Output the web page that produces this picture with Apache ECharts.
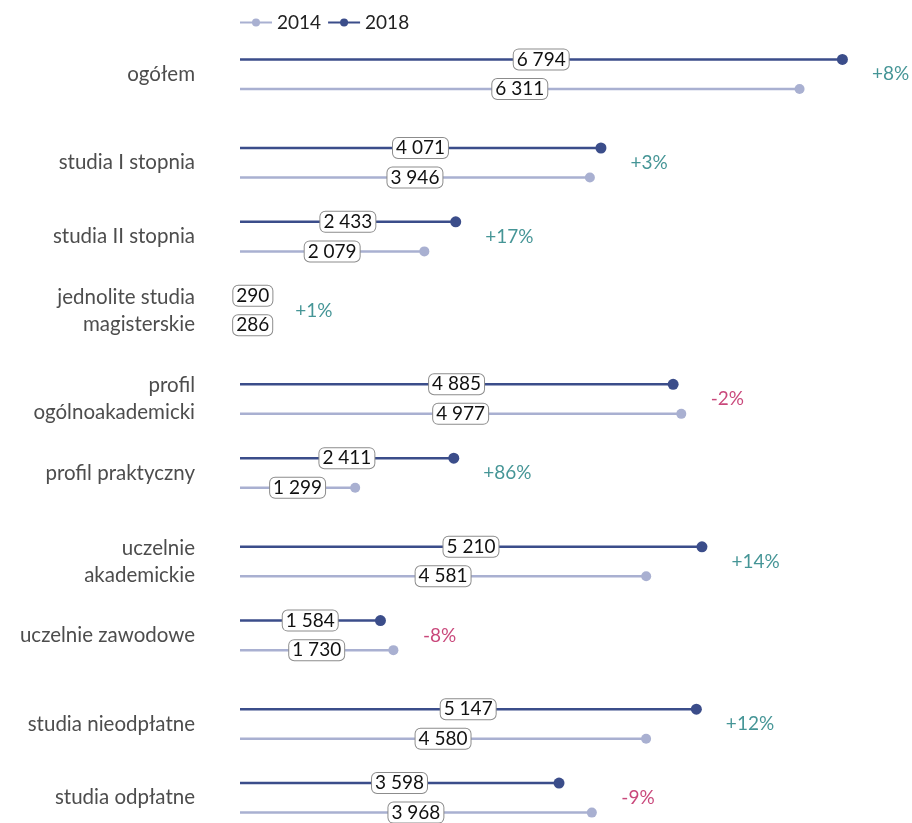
<!DOCTYPE html>
<html><head><meta charset="utf-8">
<script src="https://cdn.jsdelivr.net/npm/echarts@6/dist/echarts.min.js"></script>
<style>html,body{margin:0;padding:0;background:#fff}#c{width:912px;height:823px}</style>
</head><body><div id="c"></div>
<script>
const categories = ['ogółem','studia I stopnia','studia II stopnia','jednolite studia\nmagisterskie','profil\nogólnoakademicki','profil praktyczny','uczelnie\nakademickie','uczelnie zawodowe','studia nieodpłatne','studia odpłatne'];
const v2018 = [6794,4071,2433,290,4885,2411,5210,1584,5147,3598];
const v2014 = [6311,3946,2079,286,4977,1299,4581,1730,4580,3968];
const changes = ['+8%','+3%','+17%','+1%','-2%','+86%','+14%','-8%','+12%','-9%'];
const groups = [0,1,1,1,2,2,3,3,4,4];

const C18 = '#3b4d8a', C14 = '#a9b0d1', POS = '#167b7c', NEG = '#bc1a5a';
const FONT = 'Lato, "Open Sans", sans-serif';

// build row slots
const r18 = [], r14 = [], mid = [];
let pos = -2;
categories.forEach((c, i) => {
  pos += (i === 0 ? 2 : (groups[i] !== groups[i-1] ? 4 : 3));
  r18.push(pos); mid.push(pos + 1); r14.push(pos + 2);
  pos += 2;
});
const nSlots = pos + 1;
const slotNames = new Array(nSlots).fill('');
mid.forEach((m, i) => slotNames[m] = categories[i]);
const arr18 = new Array(nSlots).fill('-');
const arr14 = new Array(nSlots).fill('-');
r18.forEach((r, i) => arr18[r] = v2018[i]);
r14.forEach((r, i) => arr14[r] = v2014[i]);
const pctData = categories.map((c, i) => ({
  value: [Math.max(v2018[i], v2014[i]), mid[i]],
  label: {formatter: changes[i], color: changes[i].charAt(0) === '-' ? NEG : POS}
}));

const fmt = v => String(v).replace(/\B(?=(\d{3})+(?!\d))/g, ' ');
const valLabel = {
  show: true, position: 'inside', formatter: p => fmt(p.value),
  color: '#111', fontSize: 19, fontFamily: FONT,
  backgroundColor: '#fff', borderColor: '#8c8c8c', borderWidth: 1, borderRadius: 5,
  padding: [1, 3, 0, 3]
};

const chart = echarts.init(document.getElementById('c'));
chart.setOption({
  animation: false,
  legend: {
    data: ['2014', '2018'], left: 234, top: 8, itemWidth: 32, itemHeight: 10, itemGap: 6,
    textStyle: {fontSize: 19, color: '#222', fontFamily: FONT}
  },
  grid: {left: 240, right: 7, top: 52, bottom: 3},
  xAxis: {type: 'value', min: 0, max: 7500, show: false},
  yAxis: {
    type: 'category', data: slotNames, inverse: true,
    axisLine: {show: false}, axisTick: {show: false}, splitLine: {show: false},
    axisLabel: {interval: 0, margin: 45, fontSize: 20.5, lineHeight: 27, color: '#4d4d4d', fontFamily: FONT}
  },
  series: [
    {name: '2014', type: 'line', data: arr14, symbol: 'circle', symbolSize: 10, showAllSymbol: true,
     itemStyle: {color: C14}, lineStyle: {color: C14, width: 2.5}, z: 3},
    {name: '2018', type: 'line', data: arr18, symbol: 'circle', symbolSize: 11, showAllSymbol: true,
     itemStyle: {color: C18}, lineStyle: {color: C18, width: 2.5}, z: 3},
    {name: '2014', type: 'bar', data: arr14, barWidth: 2.5, barGap: '-100%',
     itemStyle: {color: C14}, label: valLabel, z: 4},
    {name: '2018', type: 'bar', data: arr18, barWidth: 2.5, barGap: '-100%',
     itemStyle: {color: C18}, label: valLabel, z: 4},
    {name: 'change', type: 'scatter', data: pctData, symbolSize: 1,
     itemStyle: {color: 'rgba(0,0,0,0)'},
     label: {show: true, position: 'right', distance: 29, fontSize: 19, fontFamily: FONT}}
  ]
});
</script></body></html>
